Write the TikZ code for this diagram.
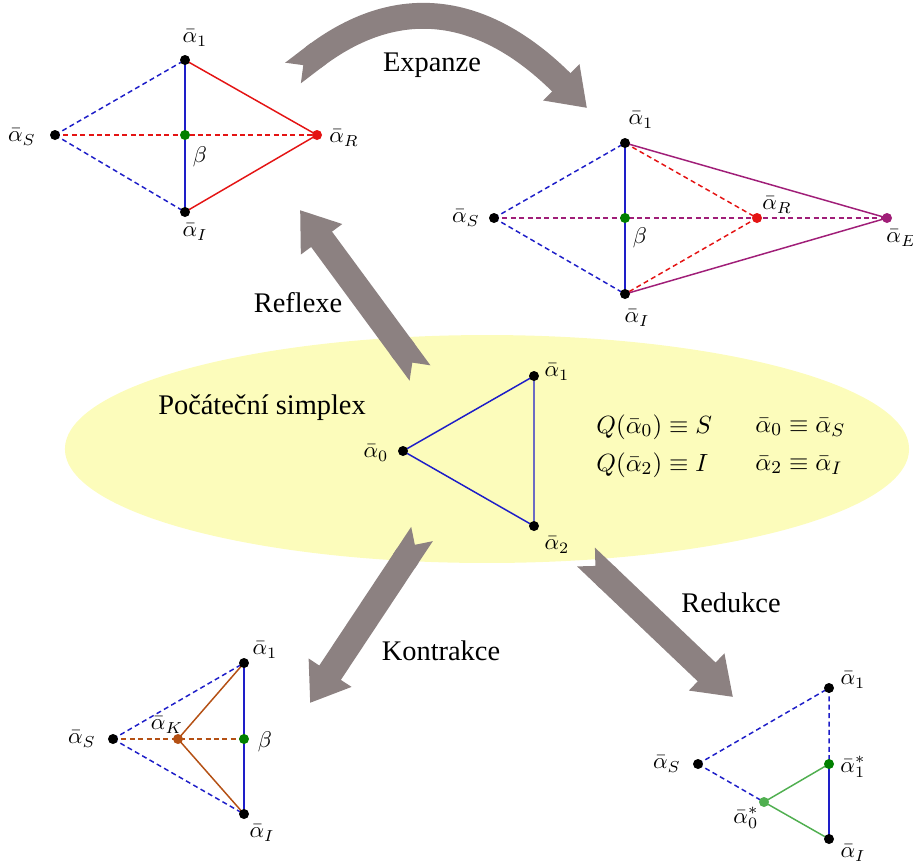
\documentclass[tikz,border=0pt]{standalone}
\usepackage{fontspec}
\setmainfont{Liberation Serif}
\usetikzlibrary{arrows.meta,shapes.geometric}
\definecolor{arrgray}{RGB}{140,129,129}
\definecolor{ellyellow}{RGB}{252,252,187}
\definecolor{sblue}{RGB}{30,30,200}
\definecolor{sred}{RGB}{228,20,20}
\definecolor{sgreen}{RGB}{0,128,0}
\definecolor{spurple}{RGB}{160,30,120}
\definecolor{sbrown}{RGB}{180,80,20}
\definecolor{lgreen}{RGB}{80,175,80}
\begin{document}
\begin{tikzpicture}[x=0.44pt,y=-0.44pt,
  dot/.style={circle,fill=#1,inner sep=0pt,minimum size=4.4pt},
  dot/.default=black,
  lab/.style={inner sep=0pt},
  ttl/.style={inner sep=0pt,font=\fontsize{12.5}{15}\selectfont},
  eqn/.style={inner sep=0pt,anchor=west,font=\fontsize{11}{13}\selectfont},
  edge/.style={line width=0.65pt},
  dsh/.style={dash pattern=on 2.2pt off 1.5pt},
  fat/.style={draw=arrgray,line width=11.4pt,{Triangle Cap[reversed]}-{Triangle[width=21.5pt,length=16pt]}}]
\useasboundingbox (0,0) rectangle (913,861);
% initial simplex ellipse
\node[ellipse,fill=ellyellow,inner sep=0pt,minimum width=371.4pt,minimum height=100.3pt] (ell) at (487,449) {};
\node[ttl] (tinit) at (262,408) {Počáteční simplex};
% ---------- middle simplex
\coordinate (m0) at (403,451);
\coordinate (m1) at (534,376);
\coordinate (m2) at (534,526);
\draw[edge,sblue] (m0) -- (m1) -- (m2) -- cycle;
\node[dot] (m0d) at (m0) {};
\node[dot] (m1d) at (m1) {};
\node[dot] (m2d) at (m2) {};
\node[lab] (m0l) at (376,453) {$\bar\alpha_0$};
\node[lab] (m1l) at (557,372) {$\bar\alpha_1$};
\node[lab] (m2l) at (557,545) {$\bar\alpha_2$};
\node[eqn] (e1) at (596,427) {$Q(\bar\alpha_0)\equiv S$};
\node[eqn] (e2) at (755,427) {$\bar\alpha_0\equiv\bar\alpha_S$};
\node[eqn] (e3) at (596,465) {$Q(\bar\alpha_2)\equiv I$};
\node[eqn] (e4) at (755,465) {$\bar\alpha_2\equiv\bar\alpha_I$};
% ---------- big arrows
\coordinate (reT) at (420,373); \coordinate (reH) at (300,210);
\coordinate (koT) at (422,534); \coordinate (koH) at (310,703);
\coordinate (rdT) at (586,557); \coordinate (rdH) at (733,697);
\coordinate (exT) at (293,73);  \coordinate (exH) at (587,108);
\draw[fat] (reT) -- (reH);
\draw[fat] (koT) -- (koH);
\draw[fat] (rdT) -- (rdH);
\draw[fat] (exT) .. controls (403,-11) and (489,10) .. (exH);
\node[ttl] (tex) at (432,65) {Expanze};
\node[ttl] (tre) at (298,303) {Reflexe};
\node[ttl] (tko) at (441,651) {Kontrakce};
\node[ttl] (trd) at (731,603) {Redukce};
% ---------- top-left: reflection
\coordinate (aS) at (55,135);
\coordinate (a1) at (185,60);
\coordinate (aB) at (185,135);
\coordinate (aI) at (185,212);
\coordinate (aR) at (317,135);
\draw[edge,sblue,dsh] (aS) -- (a1);
\draw[edge,sblue,dsh] (aS) -- (aI);
\draw[edge,sred,dsh] (aS) -- (aR);
\draw[edge,sblue] (a1) -- (aI);
\draw[edge,sred] (a1) -- (aR) -- (aI);
\node[dot] (aSd) at (aS) {};
\node[dot] (a1d) at (a1) {};
\node[dot] (aId) at (aI) {};
\node[dot=sgreen] (aBd) at (aB) {};
\node[dot=sred] (aRd) at (aR) {};
\node[lab] (aSl) at (22,137) {$\bar\alpha_S$};
\node[lab] (a1l) at (195,38) {$\bar\alpha_1$};
\node[lab] (aBl) at (200,157) {$\beta$};
\node[lab] (aIl) at (195,232) {$\bar\alpha_I$};
\node[lab] (aRl) at (344,138) {$\bar\alpha_R$};
% ---------- top-right: expansion
\coordinate (bS) at (494,218);
\coordinate (b1) at (625,143);
\coordinate (bB) at (625,218);
\coordinate (bI) at (625,294);
\coordinate (bR) at (757,218);
\coordinate (bE) at (887,218);
\draw[edge,sblue,dsh] (bS) -- (b1);
\draw[edge,sblue,dsh] (bS) -- (bI);
\draw[edge,spurple,dsh] (bS) -- (bE);
\draw[edge,sred,dsh] (b1) -- (bR) -- (bI);
\draw[edge,sblue] (b1) -- (bI);
\draw[edge,spurple] (b1) -- (bE) -- (bI);
\node[dot] (bSd) at (bS) {};
\node[dot] (b1d) at (b1) {};
\node[dot] (bId) at (bI) {};
\node[dot=sgreen] (bBd) at (bB) {};
\node[dot=sred] (bRd) at (bR) {};
\node[dot=spurple] (bEd) at (bE) {};
\node[lab] (bSl) at (466,218) {$\bar\alpha_S$};
\node[lab] (b1l) at (641,120) {$\bar\alpha_1$};
\node[lab] (bBl) at (640,238) {$\beta$};
\node[lab] (bIl) at (637,318) {$\bar\alpha_I$};
\node[lab] (bRl) at (777,205) {$\bar\alpha_R$};
\node[lab,anchor=west] (bEl) at (886,238) {$\bar\alpha_E$};
% ---------- bottom-left: contraction
\coordinate (cS) at (113,739);
\coordinate (c1) at (244,663);
\coordinate (cK) at (178,739);
\coordinate (cB) at (244,739);
\coordinate (cI) at (244,814);
\draw[edge,sblue,dsh] (cS) -- (c1);
\draw[edge,sblue,dsh] (cS) -- (cI);
\draw[edge,sbrown,dsh] (cS) -- (cB);
\draw[edge,sbrown] (c1) -- (cK) -- (cI);
\draw[edge,sblue] (c1) -- (cI);
\node[dot] (cSd) at (cS) {};
\node[dot] (c1d) at (c1) {};
\node[dot] (cId) at (cI) {};
\node[dot=sbrown] (cKd) at (cK) {};
\node[dot=sgreen] (cBd) at (cB) {};
\node[lab] (cSl) at (82,739) {$\bar\alpha_S$};
\node[lab] (c1l) at (265,650) {$\bar\alpha_1$};
\node[lab] (cKl) at (167,725) {$\bar\alpha_K$};
\node[lab] (cBl) at (265,742) {$\beta$};
\node[lab] (cIl) at (262,833) {$\bar\alpha_I$};
% ---------- bottom-right: reduction
\coordinate (dS) at (698,764);
\coordinate (d1) at (829,688);
\coordinate (d1s) at (829,764);
\coordinate (d0s) at (764,802);
\coordinate (dI) at (829,839);
\draw[edge,sblue,dsh] (dS) -- (d1) -- (d1s);
\draw[edge,sblue,dsh] (dS) -- (d0s);
\draw[edge,lgreen] (d1s) -- (d0s) -- (dI);
\draw[edge,sblue] (d1s) -- (dI);
\node[dot] (dSd) at (dS) {};
\node[dot] (d1d) at (d1) {};
\node[dot] (dId) at (dI) {};
\node[dot=sgreen] (d1sd) at (d1s) {};
\node[dot=lgreen] (d0sd) at (d0s) {};
\node[lab] (dSl) at (667,764) {$\bar\alpha_S$};
\node[lab] (d1l) at (853,680) {$\bar\alpha_1$};
\node[lab] (d1sl) at (853,767) {$\bar\alpha_1^*$};
\node[lab] (d0sl) at (746,818) {$\bar\alpha_0^*$};
\node[lab] (dIl) at (853,853) {$\bar\alpha_I$};
\end{tikzpicture}
\end{document}
